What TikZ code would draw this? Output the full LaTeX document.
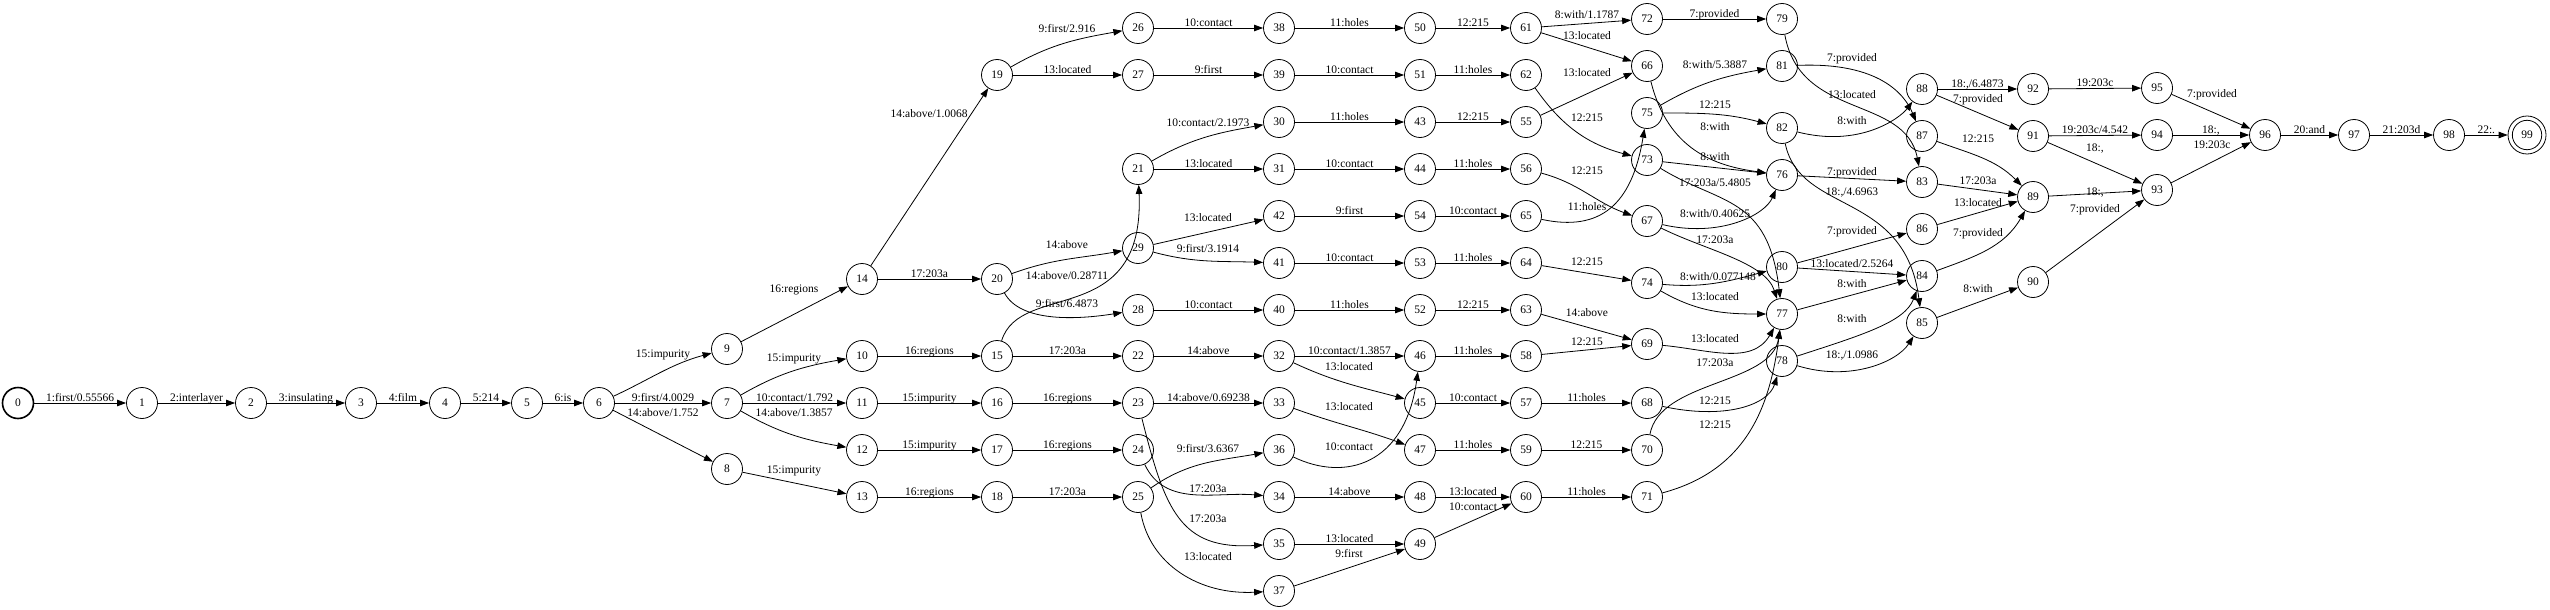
\documentclass[tikz,border=0pt]{standalone}
\usepackage{fontspec}
\setmainfont{Liberation Serif}
\usetikzlibrary{arrows.meta}
\newcommand\mknode[3]{\node[st] (n#1) at (#2,-#3) {#1};}
\newcommand\elab[4]{\node[lbl] (#1) at (#2,-#3) {#4};}
\begin{document}
\begin{tikzpicture}[x=1pt,y=1pt,
  st/.style={circle,draw,line width=0.8pt,minimum size=31pt,inner sep=0pt,font=\fontsize{11.5}{13}\selectfont},
  lbl/.style={inner sep=0pt,text height=8pt,text depth=0pt,font=\fontsize{11.5}{13}\selectfont},
  ab/.style={lbl,above=1.5pt},
  e/.style={line width=0.8pt,-{Triangle[length=9pt,width=6.5pt]}}]
\useasboundingbox (0,0) rectangle (2550,-610);
% ---------- states ----------
\node[st,line width=1.6pt] (n0) at (18,-403) {0};
\mknode{1}{142}{403}
\mknode{2}{251}{403}
\mknode{3}{361}{403}
\mknode{4}{445}{403}
\mknode{5}{527}{403}
\mknode{6}{599}{403}
\mknode{7}{727}{403}
\mknode{8}{727}{469}
\mknode{9}{727}{349}
\mknode{10}{862}{356}
\mknode{11}{862}{403}
\mknode{12}{862}{450}
\mknode{13}{862}{497}
\mknode{14}{862}{279}
\mknode{15}{997}{356}
\mknode{16}{997}{403}
\mknode{17}{997}{450}
\mknode{18}{997}{497}
\mknode{19}{997}{75}
\mknode{20}{997}{279}
\mknode{21}{1138}{169}
\mknode{22}{1138}{356}
\mknode{23}{1138}{403}
\mknode{24}{1138}{450}
\mknode{25}{1138}{497}
\mknode{26}{1138}{28}
\mknode{27}{1138}{75}
\mknode{28}{1138}{310}
\mknode{29}{1138}{248}
\mknode{30}{1279}{122}
\mknode{31}{1279}{169}
\mknode{32}{1279}{356}
\mknode{33}{1279}{403}
\mknode{34}{1279}{497}
\mknode{35}{1279}{544}
\mknode{36}{1279}{450}
\mknode{37}{1279}{591}
\mknode{38}{1279}{28}
\mknode{39}{1279}{75}
\mknode{40}{1279}{310}
\mknode{41}{1279}{263}
\mknode{42}{1279}{216}
\mknode{43}{1420}{122}
\mknode{44}{1420}{169}
\mknode{45}{1420}{403}
\mknode{46}{1420}{356}
\mknode{47}{1420}{450}
\mknode{48}{1420}{497}
\mknode{49}{1420}{544}
\mknode{50}{1420}{28}
\mknode{51}{1420}{75}
\mknode{52}{1420}{310}
\mknode{53}{1420}{263}
\mknode{54}{1420}{216}
\mknode{55}{1526}{122}
\mknode{56}{1526}{169}
\mknode{57}{1526}{403}
\mknode{58}{1526}{356}
\mknode{59}{1526}{450}
\mknode{60}{1526}{497}
\mknode{61}{1526}{28}
\mknode{62}{1526}{75}
\mknode{63}{1526}{310}
\mknode{64}{1526}{263}
\mknode{65}{1526}{216}
\mknode{66}{1647}{66}
\mknode{67}{1647}{221}
\mknode{68}{1647}{403}
\mknode{69}{1647}{344}
\mknode{70}{1647}{450}
\mknode{71}{1647}{497}
\mknode{72}{1647}{19}
\mknode{73}{1647}{160}
\mknode{74}{1647}{283}
\mknode{75}{1647}{113}
\mknode{76}{1782}{175}
\mknode{77}{1782}{314}
\mknode{78}{1782}{361}
\mknode{79}{1782}{19}
\mknode{80}{1782}{267}
\mknode{81}{1782}{66}
\mknode{82}{1782}{128}
\mknode{83}{1922}{182}
\mknode{84}{1922}{276}
\mknode{85}{1922}{323}
\mknode{86}{1922}{229}
\mknode{87}{1922}{136}
\mknode{88}{1922}{89}
\mknode{89}{2033}{197}
\mknode{90}{2033}{282}
\mknode{91}{2033}{136}
\mknode{92}{2033}{89}
\mknode{93}{2157}{190}
\mknode{94}{2157}{135}
\mknode{95}{2157}{88}
\mknode{96}{2265}{135}
\mknode{97}{2354}{135}
\mknode{98}{2449}{135}
\node[st,minimum size=38pt] (n99) at (2527,-135) {99};
\draw[line width=0.8pt] (n99.center) circle[radius=14.7];
% ---------- straight horizontal arcs ----------
\draw[e] (n0) -- node[ab]{1:first/0.55566} (n1);
\draw[e] (n1) -- node[ab]{2:interlayer} (n2);
\draw[e] (n2) -- node[ab]{3:insulating} (n3);
\draw[e] (n3) -- node[ab]{4:film} (n4);
\draw[e] (n4) -- node[ab]{5:214} (n5);
\draw[e] (n5) -- node[ab]{6:is} (n6);
\draw[e] (n6) -- node[ab]{9:first/4.0029} (n7);
\draw[e] (n7) -- node[ab]{10:contact/1.792} (n11);
\draw[e] (n14) -- node[ab]{17:203a} (n20);
\draw[e] (n10) -- node[ab]{16:regions} (n15);
\draw[e] (n11) -- node[ab]{15:impurity} (n16);
\draw[e] (n12) -- node[ab]{15:impurity} (n17);
\draw[e] (n13) -- node[ab]{16:regions} (n18);
\draw[e] (n19) -- node[ab]{13:located} (n27);
\draw[e] (n21) -- node[ab]{13:located} (n31);
\draw[e] (n26) -- node[ab]{10:contact} (n38);
\draw[e] (n27) -- node[ab]{9:first} (n39);
\draw[e] (n28) -- node[ab]{10:contact} (n40);
\draw[e] (n15) -- node[ab]{17:203a} (n22);
\draw[e] (n22) -- node[ab]{14:above} (n32);
\draw[e] (n16) -- node[ab]{16:regions} (n23);
\draw[e] (n23) -- node[ab]{14:above/0.69238} (n33);
\draw[e] (n17) -- node[ab]{16:regions} (n24);
\draw[e] (n18) -- node[ab]{17:203a} (n25);
\draw[e] (n38) -- node[ab]{11:holes} (n50);
\draw[e] (n39) -- node[ab]{10:contact} (n51);
\draw[e] (n30) -- node[ab]{11:holes} (n43);
\draw[e] (n31) -- node[ab]{10:contact} (n44);
\draw[e] (n42) -- node[ab]{9:first} (n54);
\draw[e] (n41) -- node[ab]{10:contact} (n53);
\draw[e] (n40) -- node[ab]{11:holes} (n52);
\draw[e] (n32) -- node[ab]{10:contact/1.3857} (n46);
\draw[e] (n34) -- node[ab]{14:above} (n48);
\draw[e] (n35) -- node[ab]{13:located} (n49);
\draw[e] (n50) -- node[ab]{12:215} (n61);
\draw[e] (n51) -- node[ab]{11:holes} (n62);
\draw[e] (n43) -- node[ab]{12:215} (n55);
\draw[e] (n44) -- node[ab]{11:holes} (n56);
\draw[e] (n54) -- node[ab]{10:contact} (n65);
\draw[e] (n53) -- node[ab]{11:holes} (n64);
\draw[e] (n52) -- node[ab]{12:215} (n63);
\draw[e] (n46) -- node[ab]{11:holes} (n58);
\draw[e] (n45) -- node[ab]{10:contact} (n57);
\draw[e] (n47) -- node[ab]{11:holes} (n59);
\draw[e] (n48) -- node[ab]{13:located} (n60);
\draw[e] (n57) -- node[ab]{11:holes} (n68);
\draw[e] (n59) -- node[ab]{12:215} (n70);
\draw[e] (n60) -- node[ab]{11:holes} (n71);
\draw[e] (n72) -- node[ab]{7:provided} (n79);
\draw[e] (n88) -- node[ab]{18:,/6.4873} (n92);
\draw[e] (n92) -- node[ab]{19:203c} (n95);
\draw[e] (n91) -- node[ab]{19:203c/4.542} (n94);
\draw[e] (n94) -- node[ab]{18:,} (n96);
\draw[e] (n96) -- node[ab]{20:and} (n97);
\draw[e] (n97) -- node[ab]{21:203d} (n98);
\draw[e] (n98) -- node[ab]{22:.} (n99);
% ---------- other straight arcs ----------
\draw[e] (n6) -- (n8);
\draw[e] (n8) -- (n13);
\draw[e] (n9) -- (n14);
\draw[e] (n14) -- (n19);
\draw[e] (n29) -- (n42);
\draw[e] (n37) -- (n49);
\draw[e] (n49) -- (n60);
\draw[e] (n61) -- (n72);
\draw[e] (n61) -- (n66);
\draw[e] (n55) -- (n66);
\draw[e] (n64) -- (n74);
\draw[e] (n63) -- (n69);
\draw[e] (n58) -- (n69);
\draw[e] (n73) -- (n76);
\draw[e] (n76) -- (n83);
\draw[e] (n80) -- (n84);
\draw[e] (n77) -- (n84);
\draw[e] (n83) -- (n89);
\draw[e] (n86) -- (n89);
\draw[e] (n85) -- (n90);
\draw[e] (n88) -- (n91);
\draw[e] (n91) -- (n93);
\draw[e] (n89) -- (n93);
\draw[e] (n90) -- (n93);
\draw[e] (n95) -- (n96);
\draw[e] (n93) -- (n96);
% ---------- curved arcs ----------
\draw[e] (n6) to[out=25,in=195] (n9);
\draw[e] (n7) to[out=30,in=190] (n10);
\draw[e] (n7) to[out=-30,in=170] (n12);
\draw[e] (n19) to[out=30,in=190] (n26);
\draw[e] (n20) to[out=20,in=190] (n29);
\draw[e] (n21) to[out=30,in=190] (n30);
\draw[e] (n29) to[out=-15,in=178] (n41);
\draw[e] (n32) to[out=-25,in=165] (n45);
\draw[e] (n33) to[out=-20,in=160] (n47);
\draw[e] (n25) to[out=35,in=190] (n36);
\draw[e] (n24) to[out=-65,in=175] (n34);
\draw[e] (n62) to[out=-55,in=165] (n73);
\draw[e] (n56) to[out=-15,in=160] (n67);
\draw[e] (n75) to[out=30,in=190] (n81);
\draw[e] (n75) to[out=0,in=165] (n82);
\draw[e] (n74) to[out=-5,in=195] (n80);
\draw[e] (n74) to[out=-30,in=180] (n77);
\draw[e] (n69) to[out=-5,in=-120] (n77);
\draw[e] (n80) to[out=15,in=195] (n86);
\draw[e] (n87) to[out=-20,in=135] (n89);
\draw[e] (n84) to[out=20,in=-120] (n89);
\draw[e] (n15) .. controls (1020,-280) and (1145,-330) .. (n21);
\draw[e] (n20) .. controls (1020,-322) and (1075,-320) .. (n28);
\draw[e] (n36) .. controls (1345,-482) and (1405,-465) .. (n46);
\draw[e] (n23) .. controls (1165,-510) and (1180,-550) .. (n35);
\draw[e] (n25) .. controls (1150,-565) and (1200,-595) .. (n37);
\draw[e] (n65) .. controls (1600,-232) and (1632,-205) .. (n75);
\draw[e] (n66) .. controls (1668,-150) and (1715,-166) .. (n76);
\draw[e] (n73) .. controls (1720,-205) and (1768,-195) .. (n77);
\draw[e] (n67) .. controls (1720,-238) and (1765,-215) .. (n76);
\draw[e] (n67) .. controls (1705,-250) and (1765,-262) .. (n77);
\draw[e] (n70) .. controls (1660,-380) and (1772,-385) .. (n77);
\draw[e] (n68) .. controls (1725,-420) and (1768,-405) .. (n78);
\draw[e] (n71) .. controls (1748,-470) and (1770,-405) .. (n77);
\draw[e] (n79) .. controls (1800,-120) and (1905,-95) .. (n83);
\draw[e] (n81) .. controls (1880,-62) and (1905,-95) .. (n87);
\draw[e] (n82) .. controls (1860,-148) and (1900,-118) .. (n88);
\draw[e] (n82) .. controls (1800,-215) and (1905,-190) .. (n85);
\draw[e] (n78) .. controls (1862,-335) and (1905,-322) .. (n84);
\draw[e] (n78) .. controls (1850,-382) and (1897,-362) .. (n85);
% ---------- labels of non-horizontal arcs ----------
\elab{l6to9}{663}{353}{15:impurity}
\elab{l6to8}{663}{412}{14:above/1.752}
\elab{l7to10}{794}{357}{15:impurity}
\elab{l7to12}{794}{412}{14:above/1.3857}
\elab{l8to13}{794}{469}{15:impurity}
\elab{l9to14}{794}{288}{16:regions}
\elab{l14to19}{929}{113}{14:above/1.0068}
\elab{l19to26}{1067}{29}{9:first/2.916}
\elab{l20to29}{1067}{244}{14:above}
\elab{l15to21}{1067}{275}{14:above/0.28711}
\elab{l20to28}{1067}{303}{9:first/6.4873}
\elab{l21to30}{1208}{122}{10:contact/2.1973}
\elab{l29to42}{1208}{217}{13:located}
\elab{l29to41}{1208}{248}{9:first/3.1914}
\elab{l32to45}{1349}{366}{13:located}
\elab{l33to47}{1349}{406}{13:located}
\elab{l36to46}{1349}{446}{10:contact}
\elab{l25to36}{1208}{448}{9:first/3.6367}
\elab{l24to34}{1208}{488}{17:203a}
\elab{l23to35}{1208}{518}{17:203a}
\elab{l25to37}{1208}{556}{13:located}
\elab{l37to49}{1349}{553}{9:first}
\elab{l49to60}{1473}{506}{10:contact}
\elab{l61to72}{1587}{15}{8:with/1.1787}
\elab{l61to66}{1587}{36}{13:located}
\elab{l55to66}{1587}{73}{13:located}
\elab{l62to73}{1587}{117}{12:215}
\elab{l56to67}{1587}{170}{12:215}
\elab{l65to75}{1587}{206}{11:holes}
\elab{l64to74}{1587}{261}{12:215}
\elab{l63to69}{1587}{312}{14:above}
\elab{l58to69}{1587}{341}{12:215}
\elab{l75to81}{1715}{65}{8:with/5.3887}
\elab{l75to82}{1715}{104}{12:215}
\elab{l66to76}{1715}{126}{8:with}
\elab{l73to76}{1715}{156}{8:with}
\elab{l73to77}{1715}{182}{17:203a/5.4805}
\elab{l67to76}{1715}{213}{8:with/0.40625}
\elab{l67to77}{1715}{239}{17:203a}
\elab{l74to80}{1718}{276}{8:with/0.077148}
\elab{l74to77}{1715}{296}{13:located}
\elab{l69to77}{1715}{338}{13:located}
\elab{l70to77}{1715}{362}{17:203a}
\elab{l68to78}{1715}{400}{12:215}
\elab{l71to77}{1715}{424}{12:215}
\elab{l81to87}{1852}{58}{7:provided}
\elab{l79to83}{1852}{94}{13:located}
\elab{l82to88}{1852}{120}{8:with}
\elab{l76to83}{1852}{171}{7:provided}
\elab{l82to85}{1852}{191}{18:,/4.6963}
\elab{l80to86}{1852}{230}{7:provided}
\elab{l80to84}{1852}{263}{13:located/2.5264}
\elab{l77to84}{1852}{283}{8:with}
\elab{l78to84}{1852}{318}{8:with}
\elab{l78to85}{1852}{354}{18:,/1.0986}
\elab{l88to91}{1978}{98}{7:provided}
\elab{l87to89}{1978}{138}{12:215}
\elab{l83to89}{1978}{180}{17:203a}
\elab{l86to89}{1978}{202}{13:located}
\elab{l84to89}{1978}{232}{7:provided}
\elab{l85to90}{1978}{288}{8:with}
\elab{l91to93}{2095}{147}{18:,}
\elab{l89to93}{2095}{191}{18:,}
\elab{l90to93}{2095}{208}{7:provided}
\elab{l95to96}{2212}{93}{7:provided}
\elab{l93to96}{2212}{144}{19:203c}
\end{tikzpicture}
\end{document}
